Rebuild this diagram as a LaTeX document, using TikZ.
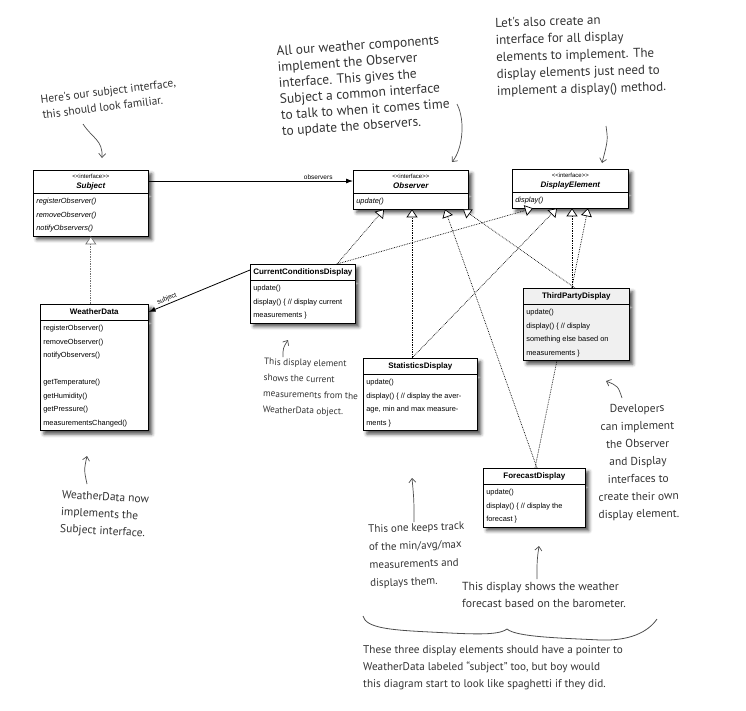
\documentclass[tikz,border=0pt]{standalone}
\usepackage{fontspec}
\usepackage{array}
\setmainfont{Liberation Sans}
\newfontfamily\handfont{PT Sans}
\usepackage{tikz}
\usetikzlibrary{positioning, arrows.meta, shapes.multipart, shadows.blur}

% class box contents
\newcommand{\ifacehead}[1]{\fontsize{6}{10}\selectfont\begin{tabular}{@{}c@{}}<{}<interface>{}>\\\fontsize{8}{10}\selectfont\bfseries\itshape #1\end{tabular}}
\newcommand{\clshead}[1]{\fontsize{8}{13}\selectfont\bfseries\strut #1}
\newcommand{\members}[2][]{\fontsize{7.4}{13.5}\selectfont\begin{tabular}{@{}>{#1}l@{}}#2\end{tabular}}
\newcommand{\hand}[2]{\handfont\fontsize{#1}{#2}\selectfont}

\begin{document}
\begin{tikzpicture}[
    x=1pt, y=-1pt,
    cls/.style={rectangle split, rectangle split parts=2, draw, line width=0.6pt, fill=white,
      anchor=north west, inner xsep=3pt, inner ysep=1pt,
      rectangle split part align={center, left},
      blur shadow={shadow xshift=3.5pt, shadow yshift=-3.5pt, shadow blur radius=3.5pt, shadow opacity=70}},
    impl/.style={densely dotted, line width=0.7pt, -{Triangle[fill=white, length=8pt, width=11pt]}},
    assoc/.style={line width=0.8pt, -{Latex[length=7pt, width=5pt]}},
    role/.style={font=\fontsize{6.5}{8}\selectfont, inner sep=1.5pt},
    note/.style={font=\hand{11.5}{17}, text=black!80, align=left, inner sep=0pt},
    pointer/.style={line width=0.7pt, black!70, -{Straight Barb[length=4pt, width=7pt]}}
  ]
  \useasboundingbox (0,0) rectangle (746,710);

  % interfaces
  \node[cls, minimum width=115pt, minimum height=64pt] (subj) at (33,170)
    {\ifacehead{Subject}\nodepart{two}\members[\itshape]{registerObserver()\\removeObserver()\\notifyObservers()}};
  \node[cls, minimum width=115pt, minimum height=43pt] (obs) at (353,170)
    {\ifacehead{Observer}\nodepart{two}\members[\itshape]{update()}};
  \node[cls, minimum width=116pt, minimum height=42pt] (de) at (512,169)
    {\ifacehead{DisplayElement}\nodepart{two}\members[\itshape]{display()}};

  % classes
  \node[cls, minimum width=108pt, minimum height=138pt] (wd) at (40,304)
    {\clshead{WeatherData}\nodepart{two}\members{registerObserver()\\removeObserver()\\notifyObservers()\\ \\getTemperature()\\getHumidity()\\getPressure()\\measurementsChanged()}};
  \node[cls, minimum width=103pt, minimum height=65pt] (ccd) at (250,264)
    {\clshead{CurrentConditionsDisplay}\nodepart{two}\members{update()\\display() \{ // display current\\measurements \}}};
  \node[cls, minimum width=114pt, minimum height=80pt] (stat) at (363,358)
    {\clshead{StatisticsDisplay}\nodepart{two}\members{update()\\display() \{ // display the aver-\\age, min and max measure-\\ments \}}};
  \node[cls, minimum width=102pt, minimum height=73pt] (fc) at (483,468)
    {\clshead{ForecastDisplay}\nodepart{two}\members{update()\\display() \{ // display the\\forecast \}}};

  % runs behind the third party box
  \draw[impl] ([xshift=52pt]fc.north west) -- ([xshift=76pt]de.south west);

  \node[cls, fill=black!6, minimum width=106pt, minimum height=79pt] (tp) at (523,288)
    {\clshead{ThirdPartyDisplay}\nodepart{two}\members{update()\\display() \{ // display\\something else based on\\measurements \}}};

  % associations
  \draw[assoc] ([yshift=-11pt]subj.north east) -- node[role, above, pos=0.83]{observers} ([yshift=-11pt]obs.north west);
  \draw[assoc] ([yshift=-6pt]ccd.north west) -- node[role, sloped, above, pos=0.8]{subject} ([yshift=-8pt]wd.north east);

  % implementations
  \draw[impl, black!55] (subj.south |- wd.north) -- (subj.south);
  \draw[impl] ([xshift=87pt]ccd.north west) -- ([xshift=31pt]obs.south west);
  \draw[impl] ([xshift=87pt]ccd.north west) -- ([xshift=21pt]de.south west);
  \draw[impl] ([xshift=49pt]stat.north west) -- ([xshift=59pt]obs.south west);
  \draw[impl] ([xshift=49pt]stat.north west) -- ([xshift=45pt]de.south west);
  \draw[impl] ([xshift=52pt]tp.north west) -- ([xshift=110pt]obs.south west);
  \draw[impl] ([xshift=49pt]tp.north west) -- ([xshift=60pt]de.south west);
  \draw[impl] ([xshift=54pt]fc.north west) -- ([xshift=92pt]obs.south west);

  % notes
  \node[note, anchor=north west, rotate=7, font=\hand{11.5}{15.5}] (n-subj) at (40,95)
    {Here's our subject interface,\\this should look familiar.};
  \node[note, anchor=north west, rotate=4, font=\hand{13.5}{16}] (n-obs) at (276,46)
    {All our weather components\\implement the Observer\\interface. This gives the\\Subject a common interface\\to talk to when it comes time\\to update the observers.};
  \node[note, anchor=north west, rotate=1.5, font=\hand{13}{17}] (n-de) at (495,18)
    {Let's also create an\\interface for all display\\elements to implement. The\\display elements just need to\\implement a display() method.};
  \node[note, anchor=north west, rotate=-1.5, font=\hand{9.3}{16}] (n-ccd) at (264,358)
    {This display element\\shows the current\\measurements from the\\WeatherData object.};
  \node[note, anchor=north west, rotate=-3] (n-wd) at (62,490)
    {WeatherData now\\implements the\\Subject interface.};
  \node[note, anchor=north west, rotate=2, font=\hand{11}{18}] (n-stat) at (368,525)
    {This one keeps track\\of the min/avg/max\\measurements and\\displays them.};
  \node[note, anchor=north, align=center, rotate=1, font=\hand{11.5}{17.6}] (n-tp) at (637,404)
    {Developers\\can implement\\the Observer\\and Display\\interfaces to\\create their own\\display element.};
  \node[note, anchor=north west, font=\hand{11.7}{17}] (n-fc) at (462,582)
    {This display shows the weather\\forecast based on the barometer.};
  \node[note, anchor=north west, font=\hand{11.2}{17}] (n-all) at (363,645)
    {These three display elements should have a pointer to\\WeatherData labeled “subject” too, but boy would\\this diagram start to look like spaghetti if they did.};

  % pointers
  \coordinate (p1a) at (83,124);  \coordinate (p1b) at (102,158);
  \coordinate (p2a) at (457,104); \coordinate (p2b) at (452,162);
  \coordinate (p3a) at (606,126); \coordinate (p3b) at (602,163);
  \coordinate (p4a) at (283,357); \coordinate (p4b) at (288,340);
  \coordinate (p5a) at (87,484);  \coordinate (p5b) at (87,456);
  \coordinate (p6a) at (414,522); \coordinate (p6b) at (412,478);
  \coordinate (p7a) at (622,398); \coordinate (p7b) at (606,381);
  \coordinate (p8a) at (537,579); \coordinate (p8b) at (539,546);
  \draw[pointer] (p1a) .. controls (92,138) and (103,140) .. (p1b);
  \draw[pointer] (p2a) .. controls (466,122) and (462,150) .. (p2b);
  \draw[pointer] (p3a) .. controls (608,140) .. (p3b);
  \draw[pointer] (p4a) .. controls (283,348) .. (p4b);
  \draw[pointer] (p5a) .. controls (84,470) .. (p5b);
  \draw[pointer] (p6a) .. controls (414,500) .. (p6b);
  \draw[pointer] (p7a) .. controls (618,386) .. (p7b);
  \draw[pointer] (p8a) .. controls (537,560) .. (p8b);

  % brace
  \coordinate (br-l) at (363,616); \coordinate (br-t) at (507,629); \coordinate (br-r) at (657,619);
  \draw[line width=0.8pt, black!70] (br-l) .. controls (366,628) and (390,630) .. (430,632)
    .. controls (470,634) and (498,636) .. (br-t)
    .. controls (516,637) and (560,638) .. (600,640)
    .. controls (630,641) and (648,632) .. (br-r);
\end{tikzpicture}
\end{document}
